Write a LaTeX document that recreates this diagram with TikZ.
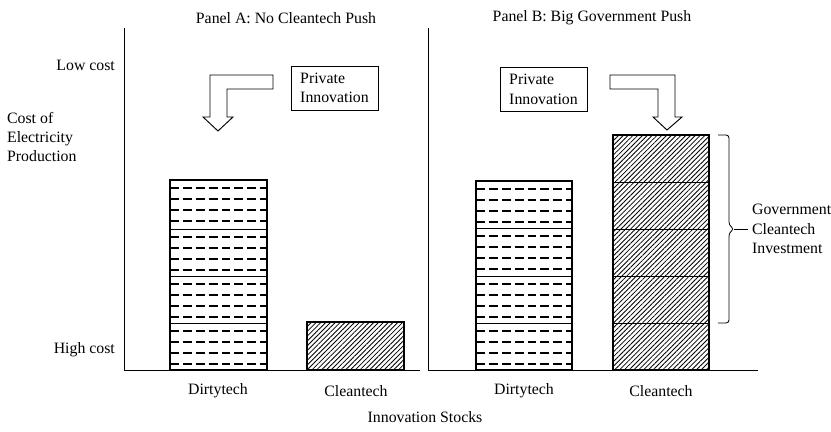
\documentclass[tikz,border=0pt]{standalone}
\usepackage{fontspec}
\setmainfont{Liberation Serif}
\usetikzlibrary{patterns.meta}

\begin{document}
\begin{tikzpicture}[x=0.03cm,y=-0.03cm,
  font=\fontsize{13.5}{16.5}\selectfont,
  axis/.style={line width=0.8pt},
  bar/.style={line width=1.4pt},
  dashrow/.style={line width=2.1pt, dash pattern=on 7.6pt off 3.4pt},
  hatch/.style={pattern={Lines[angle=45, distance=2.9pt, line width=0.7pt]}},
  blockarrow/.style={draw, line width=0.8pt, line join=miter},
  pinbox/.style={draw, line width=0.8pt, minimum width=2.61cm, minimum height=1.32cm, align=left}]
\useasboundingbox (0,0) rectangle (831,432);
% Titles of the two panels
\node (ttlA) at (286,18) {Panel A: No Cleantech Push};
\node (ttlB) at (592,18) {Panel B: Big Government Push};
% Axes of both panels
\draw[axis] (124,28) coordinate (topA) -- (124,370) coordinate (origA) -- (420,370);
\draw[axis] (428,28) coordinate (topB) -- (428,370) coordinate (origB) -- (758,370);
% Labels on the cost axis
\node[anchor=east] (lowcost) at (119,65) {Low cost};
\node[anchor=east] (highcost) at (119,350) {High cost};
\node[anchor=west, align=left] (costlbl) at (3,137) {Cost of\\Electricity\\Production};
% Panel A: dirtytech stock, four blocks of dashed rows
\foreach \t in {180,229,276,323} {
  \foreach \d in {8,19,30,41}
    \draw[dashrow] (170,\t+\d) -- (267,\t+\d);
  \draw[line width=0.5pt] (170,\t) -- (267,\t);
}
\draw[bar] (170,180) rectangle (267,370);
% Panel A: small cleantech stock
\fill[hatch] (307,322) rectangle (404,370);
\draw[bar] (307,322) rectangle (404,370);
% Panel B: dirtytech stock
\foreach \t in {181,228,276,323} {
  \foreach \d in {8,19,30,41}
    \draw[dashrow] (476,\t+\d) -- (572,\t+\d);
  \draw[line width=0.5pt] (476,\t) -- (572,\t);
}
\draw[bar] (476,181) rectangle (572,370);
% Panel B: cleantech stock, five hatched blocks
\fill[hatch] (613,135) rectangle (709,370);
\foreach \t in {182,229,276,323}
  \draw[line width=0.6pt] (613,\t) -- (709,\t);
\draw[bar] (613,135) rectangle (709,370);
% Bracket for the government investment
\draw[line width=0.7pt, rounded corners=2.5pt] (718,135) -- (729,135) -- (729,225)
  -- (734,229) coordinate (tip) -- (729,233) -- (729,323) -- (718,323);
\node[anchor=west, align=left] (govinv) at (748,229) {Government\\Cleantech\\Investment};
\draw[line width=0.7pt] (tip) -- (govinv.west);
% Private innovation boxes and bent arrows
\node[pinbox] (privA) at (334.5,88) {Private\\Innovation};
\draw[blockarrow] (273,75) -- (210,75) -- (210,117) -- (203,117) -- (218,131)
  -- (233,117) -- (227,117) -- (227,89) -- (273,89) -- cycle;
\node[pinbox] (privB) at (543.5,89.5) {Private\\Innovation};
\draw[blockarrow] (610,75) -- (675,75) -- (675,117) -- (682,117) -- (667,130)
  -- (653,117) -- (658,117) -- (658,89) -- (610,89) -- cycle;
% Bar labels
\node (dirtyA) at (218,391) {Dirtytech};
\node (cleanA) at (356,391) {Cleantech};
\node (dirtyB) at (524,391) {Dirtytech};
\node (cleanB) at (661,391) {Cleantech};
\node (stocks) at (425,417) {Innovation Stocks};
\end{tikzpicture}
\end{document}
